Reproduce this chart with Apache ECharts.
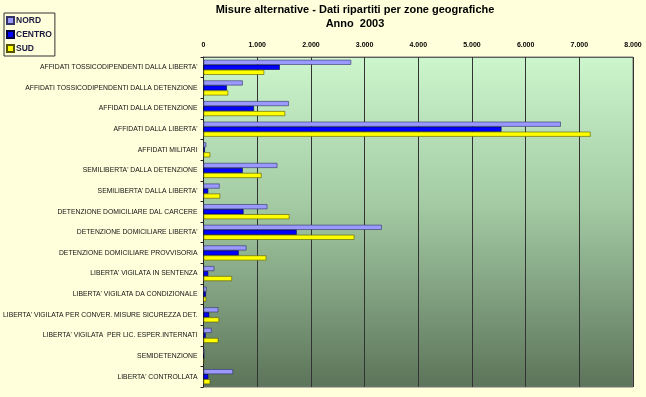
<!DOCTYPE html>
<html>
<head>
<meta charset="utf-8">
<script src="https://cdn.jsdelivr.net/npm/echarts@6/dist/echarts.min.js"></script>
<style>
  html, body { margin: 0; padding: 0; background: #ffffdc; }
  #chart { width: 646px; height: 397px; }
</style>
</head>
<body>
<div id="chart"></div>
<script>
var categories = [
	"AFFIDATI TOSSICODIPENDENTI DALLA LIBERTA'",
	"AFFIDATI TOSSICODIPENDENTI DALLA DETENZIONE",
	"AFFIDATI DALLA DETENZIONE",
	"AFFIDATI DALLA LIBERTA'",
	"AFFIDATI MILITARI",
	"SEMILIBERTA' DALLA DETENZIONE",
	"SEMILIBERTA' DALLA LIBERTA'",
	"DETENZIONE DOMICILIARE DAL CARCERE",
	"DETENZIONE DOMICILIARE LIBERTA'",
	"DETENZIONE DOMICILIARE PROVVISORIA",
	"LIBERTA' VIGILATA IN SENTENZA",
	"LIBERTA' VIGILATA DA CONDIZIONALE",
	"LIBERTA' VIGILATA PER CONVER. MISURE SICUREZZA DET.",
	"LIBERTA' VIGILATA  PER LIC. ESPER.INTERNATI",
	"SEMIDETENZIONE",
	"LIBERTA' CONTROLLATA"
];
var nord   = [2750, 730, 1590, 6655, 50, 1375, 300, 1190, 3320, 800, 200, 57, 275, 150, 15, 550];
var centro = [1420, 435,  940, 5550, 25,  730,  87,  745, 1735, 655,  87, 45, 105,  40,  8,  87];
var sud    = [1130, 460, 1520, 7210, 125, 1080, 310, 1600, 2810, 1170, 530, 50, 290, 275, 8, 125];
var xTicks = [0, 1000, 2000, 3000, 4000, 5000, 6000, 7000, 8000];

function fmt(v) {
	return String(v).replace(/\B(?=(\d{3})+(?!\d))/g, ".");
}

var chart = echarts.init(document.getElementById('chart'));

function bar(name, data, color, border) {
	return {
		name: name,
		type: 'bar',
		data: data,
		barWidth: 5,
		barGap: '0%',
		itemStyle: { color: color, borderColor: border, borderWidth: 0.6 }
	};
}

var option = {
	backgroundColor: '#ffffdc',
	animation: false,
	textStyle: { fontFamily: 'Liberation Sans, Arial, sans-serif' },
	title: {
		text: "Misure alternative - Dati ripartiti per zone geografiche\nAnno  2003",
		left: 350,
		top: -2,
		textAlign: 'center',
		textStyle: { fontSize: 11, fontWeight: 'bold', color: '#000', lineHeight: 14 }
	},
	legend: {
		orient: 'vertical',
		left: 4,
		top: 13,
		padding: [3, 3, 3, 2],
		itemGap: 5,
		itemWidth: 7,
		itemHeight: 7,
		icon: 'rect',
		borderColor: '#333',
		borderWidth: 1,
		textStyle: { fontSize: 8.5, fontWeight: 'bold', color: '#1a1a40', padding: [0, 0, 0, -3] },
		data: ['NORD', 'CENTRO', 'SUD']
	},
	grid: {
		left: 203,
		right: 13,
		top: 57,
		bottom: 10,
		show: true,
		borderColor: '#777',
		borderWidth: 1,
		backgroundColor: new echarts.graphic.LinearGradient(0, 0, 0, 1, [
			{ offset: 0, color: '#cdf6cd' },
			{ offset: 0.45, color: '#a3caa3' },
			{ offset: 1, color: '#5c745a' }
		])
	},
	xAxis: {
		type: 'value',
		position: 'top',
		min: xTicks[0],
		max: xTicks[xTicks.length - 1],
		interval: 1000,
		axisLine: { show: true, lineStyle: { color: '#555', type: 'dotted' } },
		axisTick: { show: true, inside: true, length: 3, lineStyle: { color: '#333' } },
		axisLabel: {
			fontSize: 7,
			fontWeight: 'bold',
			color: '#000',
			margin: 8,
			formatter: function (v) { return fmt(v); }
		},
		splitLine: { show: true, lineStyle: { color: '#333', width: 1 } }
	},
	yAxis: {
		type: 'category',
		inverse: true,
		data: categories,
		axisLine: { show: true, lineStyle: { color: '#222' } },
		axisTick: { show: true, length: 3, lineStyle: { color: '#222' } },
		axisLabel: { fontSize: 6.8, color: '#111', margin: 6 }
	},
	series: [
		bar('NORD', nord, '#9999ff', '#333366'),
		bar('CENTRO', centro, '#0000ff', '#000040'),
		bar('SUD', sud, '#ffff00', '#555500')
	]
};

chart.setOption(option);
</script>
</body>
</html>
